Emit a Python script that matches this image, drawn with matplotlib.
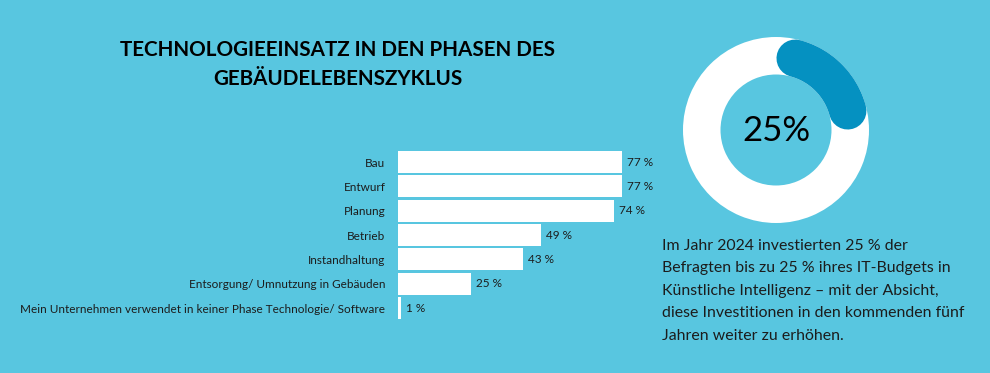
import matplotlib.pyplot as plt
from matplotlib.patches import Wedge
import numpy as np

plt.rcParams['font.family'] = ['Lato', 'DejaVu Sans']

# Data
categories = ["Bau", "Entwurf", "Planung", "Betrieb", "Instandhaltung",
              "Entsorgung/ Umnutzung in Gebäuden",
              "Mein Unternehmen verwendet in keiner Phase Technologie/ Software"]
values = [77, 77, 74, 49, 43, 25, 1]
share_ai = 25
title_lines = ["TECHNOLOGIEEINSATZ IN DEN PHASEN DES", "GEBÄUDELEBENSZYKLUS"]
text_lines = ["Im Jahr 2024 investierten 25 % der",
              "Befragten bis zu 25 % ihres IT-Budgets in",
              "Künstliche Intelligenz – mit der Absicht,",
              "diese Investitionen in den kommenden fünf",
              "Jahren weiter zu erhöhen."]

bg = "#58c6e0"
dark_blue = "#0591c1"
txt = "#1c1c1c"

W, H = 990, 373
fig = plt.figure(figsize=(W / 100, H / 100), dpi=100, facecolor=bg)

# Full-figure axes in pixel coordinates for title, donut and text
ax0 = fig.add_axes([0, 0, 1, 1])
ax0.set_xlim(0, W)
ax0.set_ylim(H, 0)
ax0.set_facecolor(bg)
ax0.axis("off")

for i, line in enumerate(title_lines):
    ax0.text(338, 50 + i * 29, line, ha="center", va="center",
             fontsize=14.9, fontweight="bold", color="black")

# Donut
cx, cy, r_out, r_in = 776, 130, 93, 55.5
ax0.add_patch(Wedge((cx, cy), r_out, 0, 360, width=r_out - r_in,
                    facecolor="white", edgecolor="none"))
r_mid = (r_out + r_in) / 2
cap = 15  # degrees taken by the round caps
# y axis inverted -> arc runs clockwise from the top
theta = np.radians(np.linspace(90 - cap, 90 - share_ai / 100 * 360 + cap, 50))
ax0.plot(cx + r_mid * np.cos(theta), cy - r_mid * np.sin(theta),
         color=dark_blue, lw=(r_out - r_in) * 0.72, solid_capstyle="round")
ax0.text(cx, cy + 1, f"{share_ai}%", ha="center", va="center",
         fontsize=25, color="black")

for i, line in enumerate(text_lines):
    ax0.text(662, 246 + i * 22.4, line, ha="left", va="center",
             fontsize=11.4, color=txt)

# Bar chart
px_per_pct = 2.915
ax = fig.add_axes([398 / W, 1 - 320.2 / H, 100 * px_per_pct / W, 170.3 / H])
ax.set_facecolor("none")
y = np.arange(len(categories))
ax.barh(y, values, height=0.9, color="white", edgecolor="none")
ax.set_xlim(0, 100)
ax.set_ylim(len(categories) - 0.5, -0.5)
for s in ax.spines.values():
    s.set_visible(False)
ax.set_xticks([])
ax.set_yticks(y)
ax.set_yticklabels(categories, fontsize=8.5, color=txt)
ax.tick_params(axis="y", length=0, pad=9)
for yi, v in zip(y, values):
    ax.text(v + 5 / px_per_pct, yi, f"{v} %", ha="left", va="center",
            fontsize=8.5, color=txt)

fig.savefig("out.png", dpi=100, facecolor=bg)
